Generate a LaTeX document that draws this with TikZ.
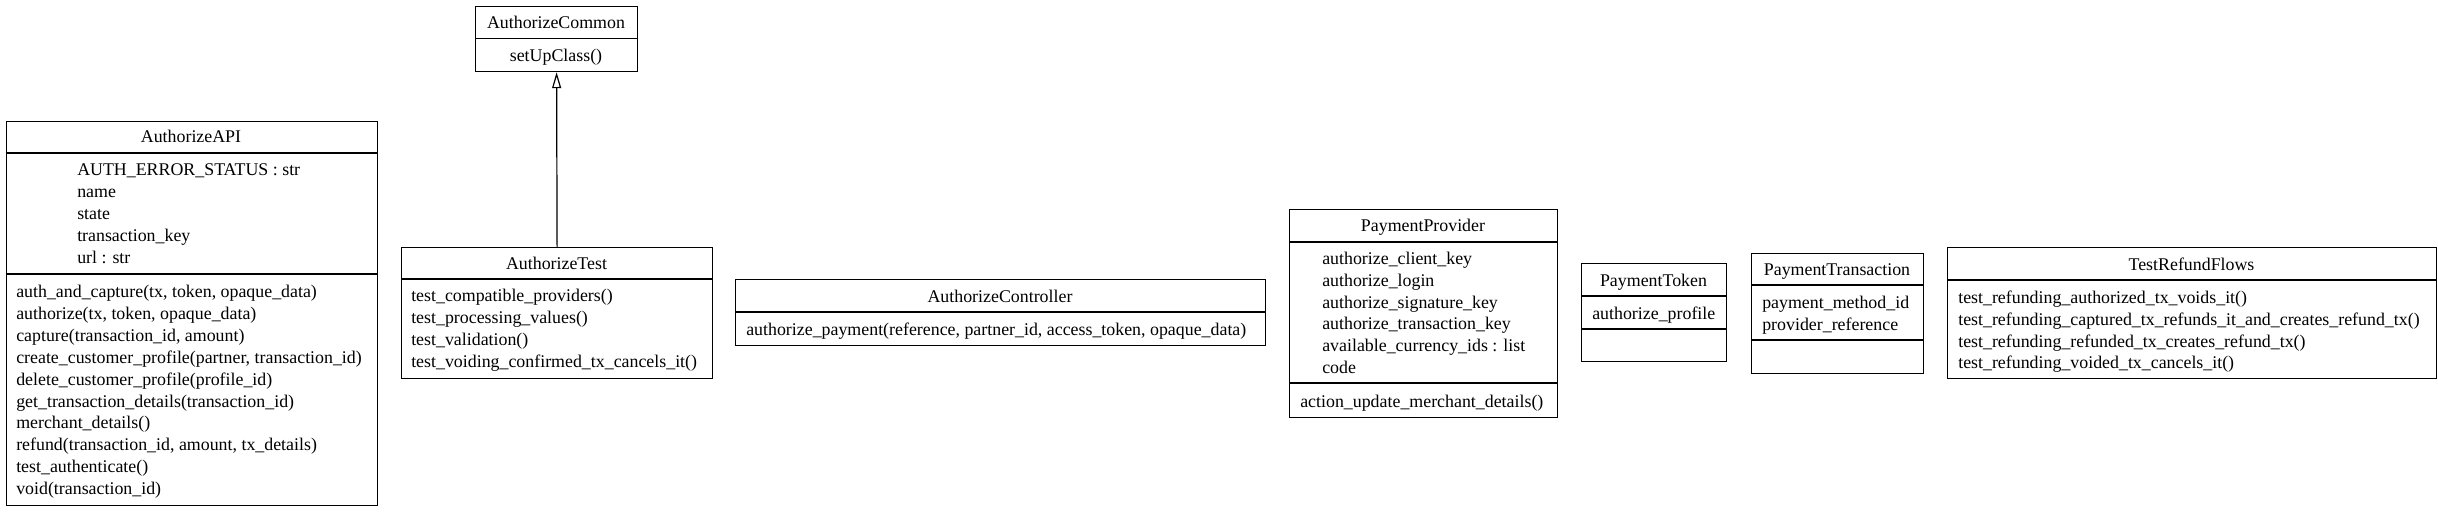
\documentclass[tikz,border=0pt]{standalone}
\usepackage{fontspec}
\setmainfont{Liberation Serif}
\usetikzlibrary{arrows.meta}
\tikzset{
  classbox/.style={draw, line width=0.9pt, inner sep=0pt, anchor=north west},
  sepline/.style={line width=0.9pt},
  ttl/.style={anchor=base, inner sep=0pt, font=\fontsize{13.4}{16}\selectfont},
  lbl/.style={anchor=base west, inner sep=0pt, font=\fontsize{13.4}{16}\selectfont},
  inherit/.style={line width=0.9pt, -{Triangle[open, length=12pt, width=6.75pt]}}
}
\begin{document}
\begin{tikzpicture}[x=0.75pt, y=-0.75pt]
  \useasboundingbox (0,0) rectangle (2438,511);
  % AuthorizeAPI
  \node[classbox, minimum width=278.25pt, minimum height=288pt] (api) at (5.5,121) {};
  \draw[sepline] (5.5,153) -- (376.5,153);
  \draw[sepline] (5.5,274) -- (376.5,274);
  \node[ttl] (apiname) at (191,142.5) {AuthorizeAPI};
  \node[lbl] (apia1) at (77,175.5) {AUTH\_ERROR\_STATUS : str};
  \node[lbl] (apia2) at (77,197.5) {name};
  \node[lbl] (apia3) at (77,219.5) {state};
  \node[lbl] (apia4) at (77,241.5) {transaction\_key};
  \node[lbl] (apia5) at (77,263.5) {url : str};
  \node[lbl] (apim1) at (16,297.5) {auth\_and\_capture(tx, token, opaque\_data)};
  \node[lbl] (apim2) at (16,319.4) {authorize(tx, token, opaque\_data)};
  \node[lbl] (apim3) at (16,341.3) {capture(transaction\_id, amount)};
  \node[lbl] (apim4) at (16,363.2) {create\_customer\_profile(partner, transaction\_id)};
  \node[lbl] (apim5) at (16,385.1) {delete\_customer\_profile(profile\_id)};
  \node[lbl] (apim6) at (16,407) {get\_transaction\_details(transaction\_id)};
  \node[lbl] (apim7) at (16,428.9) {merchant\_details()};
  \node[lbl] (apim8) at (16,450.8) {refund(transaction\_id, amount, tx\_details)};
  \node[lbl] (apim9) at (16,472.7) {test\_authenticate()};
  \node[lbl] (apim10) at (16,494.6) {void(transaction\_id)};
  % AuthorizeCommon
  \node[classbox, minimum width=121.5pt, minimum height=48.75pt] (common) at (475,6) {};
  \draw[sepline] (475,38.5) -- (637,38.5);
  \node[ttl] (commonname) at (556,28.5) {AuthorizeCommon};
  \node[ttl] (commonm1) at (556,61.5) {setUpClass()};
  % AuthorizeTest
  \node[classbox, minimum width=233.25pt, minimum height=98.25pt] (test) at (401,247) {};
  \draw[sepline] (401,279) -- (712,279);
  \node[ttl] (testname) at (556.5,269.5) {AuthorizeTest};
  \node[lbl] (testm1) at (411,301.5) {test\_compatible\_providers()};
  \node[lbl] (testm2) at (411,323.5) {test\_processing\_values()};
  \node[lbl] (testm3) at (411,345.5) {test\_validation()};
  \node[lbl] (testm4) at (411,367.5) {test\_voiding\_confirmed\_tx\_cancels\_it()};
  \draw[inherit] (test.north) -- (common.south);
  % AuthorizeController
  \node[classbox, minimum width=397.5pt, minimum height=49.5pt] (ctrl) at (735,279) {};
  \draw[sepline] (735,312) -- (1265,312);
  \node[ttl] (ctrlname) at (1000,302.5) {AuthorizeController};
  \node[lbl] (ctrlm1) at (746,335.5) {authorize\_payment(reference, partner\_id, access\_token, opaque\_data)};
  % PaymentProvider
  \node[classbox, minimum width=201pt, minimum height=156pt] (provider) at (1289,209) {};
  \draw[sepline] (1289,242) -- (1557,242);
  \draw[sepline] (1289,383) -- (1557,383);
  \node[ttl] (providername) at (1423,231.5) {PaymentProvider};
  \node[lbl] (providera1) at (1322,264.5) {authorize\_client\_key};
  \node[lbl] (providera2) at (1322,286.3) {authorize\_login};
  \node[lbl] (providera3) at (1322,308.1) {authorize\_signature\_key};
  \node[lbl] (providera4) at (1322,329.9) {authorize\_transaction\_key};
  \node[lbl] (providera5) at (1322,351.7) {available\_currency\_ids : list};
  \node[lbl] (providera6) at (1322,373.5) {code};
  \node[lbl] (providerm1) at (1300,407.5) {action\_update\_merchant\_details()};
  % PaymentToken
  \node[classbox, minimum width=108.75pt, minimum height=73.5pt] (token) at (1581,263) {};
  \draw[sepline] (1581,296) -- (1726,296);
  \draw[sepline] (1581,329) -- (1726,329);
  \node[ttl] (tokenname) at (1653.5,286.5) {PaymentToken};
  \node[lbl] (tokena1) at (1592,319) {authorize\_profile};
  % PaymentTransaction
  \node[classbox, minimum width=129pt, minimum height=90pt] (trans) at (1751,253) {};
  \draw[sepline] (1751,285) -- (1923,285);
  \draw[sepline] (1751,340) -- (1923,340);
  \node[ttl] (transname) at (1837,275.5) {PaymentTransaction};
  \node[lbl] (transa1) at (1762,308.5) {payment\_method\_id};
  \node[lbl] (transa2) at (1762,330.5) {provider\_reference};
  % TestRefundFlows
  \node[classbox, minimum width=366.75pt, minimum height=98.25pt] (refund) at (1947,247) {};
  \draw[sepline] (1947,280) -- (2436,280);
  \node[ttl] (refundname) at (2191.5,270.5) {TestRefundFlows};
  \node[lbl] (refundm1) at (1958,303.5) {test\_refunding\_authorized\_tx\_voids\_it()};
  \node[lbl] (refundm2) at (1958,325.5) {test\_refunding\_captured\_tx\_refunds\_it\_and\_creates\_refund\_tx()};
  \node[lbl] (refundm3) at (1958,347.5) {test\_refunding\_refunded\_tx\_creates\_refund\_tx()};
  \node[lbl] (refundm4) at (1958,368.5) {test\_refunding\_voided\_tx\_cancels\_it()};
\end{tikzpicture}
\end{document}
